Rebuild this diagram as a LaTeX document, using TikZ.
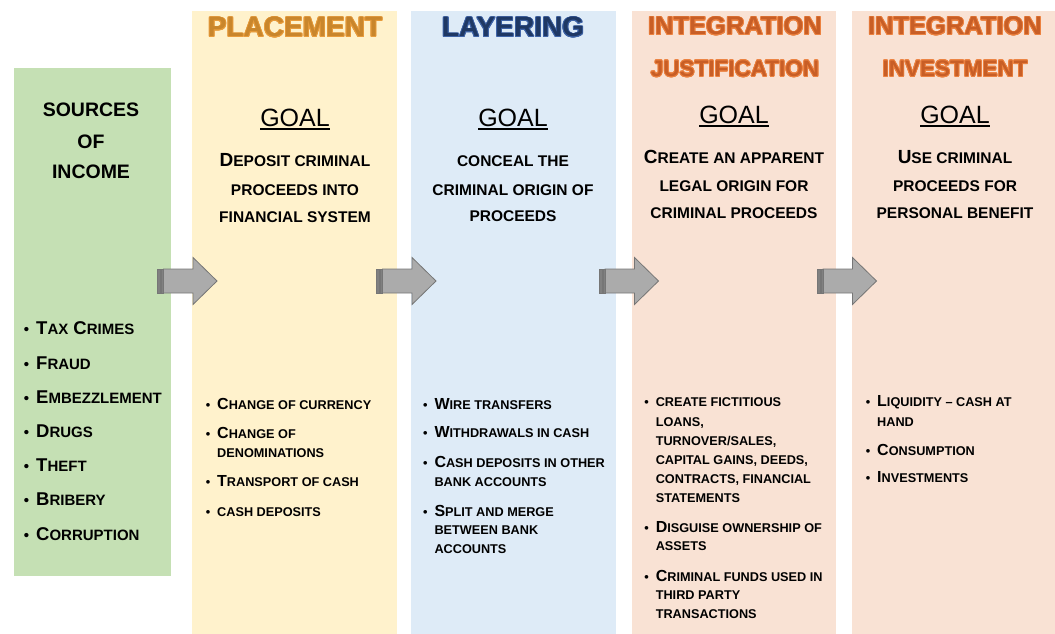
\documentclass[tikz,border=0pt]{standalone}
\usepackage{fontspec}
\usepackage[copies]{contour}
\contournumber{16}
\contourlength{0.8pt}
\setmainfont{Liberation Sans}
\definecolor{cgreen}{HTML}{C5E0B4}
\definecolor{cyellow}{HTML}{FFF2CC}
\definecolor{cblue}{HTML}{DEEBF7}
\definecolor{cpeach}{HTML}{F9E2D4}
\definecolor{hplace}{HTML}{C9862C}
\definecolor{oplace}{HTML}{E89C3C}
\definecolor{hlayer}{HTML}{1F3864}
\definecolor{olayer}{HTML}{3F64A8}
\definecolor{hinteg}{HTML}{C85E26}
\definecolor{ointeg}{HTML}{EC8240}
\definecolor{arrfill}{HTML}{ABABAB}
\definecolor{arrline}{HTML}{767676}
\newcommand\lsm{\fontsize{12.7}{12.7}\selectfont}
\newcommand\gsm{\fontsize{15.5}{15.5}\selectfont}
\newcommand\ssm{\fontsize{15}{15}\selectfont}
\newcommand\bul{\llap{{\lsm\textbullet}\hskip 7pt}}
\newcommand\sbul{\llap{{\ssm\textbullet}\hskip 7pt}}
\begin{document}
\begin{tikzpicture}[x=1pt,y=-1pt,
  hdr/.style={anchor=base, inner sep=0, font=\bfseries\fontsize{28}{28}\selectfont},
  goalhd/.style={anchor=base, inner sep=0, font=\fontsize{25}{25}\selectfont},
  gtxt/.style={anchor=base, inner sep=0, font=\bfseries\fontsize{19}{19}\selectfont},
  ltxt/.style={anchor=base west, inner sep=0, font=\bfseries\fontsize{16}{16}\selectfont},
  stxt/.style={anchor=base west, inner sep=0, font=\bfseries\fontsize{18.5}{18.5}\selectfont},
  srchd/.style={anchor=base, inner sep=0, font=\bfseries\fontsize{19.5}{19.5}\selectfont},
  uline/.style={line width=1.6pt, black},
  striped/.pic={
    \filldraw[fill=arrfill, draw=arrline, line width=0.8pt]
      (6,-12) -- (35.5,-12) -- (35.5,-23.5) -- (59.5,0) -- (35.5,23.5) -- (35.5,12) -- (6,12) -- cycle;
    \filldraw[fill=arrfill!75!black, draw=arrline, line width=0.5pt] (0,-12) rectangle (3,12);
    \filldraw[fill=arrfill!75!black, draw=arrline, line width=0.5pt] (4,-12) rectangle (6,12);
  }]
\useasboundingbox (0,0) rectangle (1055,634);
% columns
\fill[cgreen]  (14,68) rectangle (171,576);
\fill[cyellow] (192,11) rectangle (397,634);
\fill[cblue]   (411,11) rectangle (616,634);
\fill[cpeach]  (632,11) rectangle (836,634);
\fill[cpeach]  (852,11) rectangle (1055,634);
% arrows
\pic at (157.5,281) {striped};
\pic at (376.5,281) {striped};
\pic at (599,281) {striped};
\pic at (817,281) {striped};
% headers
\node[hdr] (hp) at (295,37) {\contour{oplace}{\textcolor{hplace}{PLACEMENT}}};
\node[hdr] (hl) at (513,37) {\contour{olayer}{\textcolor{hlayer}{LAYERING}}};
\node[hdr, font=\bfseries\fontsize{25.5}{25.5}\selectfont] (hi1) at (735,35) {\contour{ointeg}{\textcolor{hinteg}{INTEGRATION}}};
\node[hdr, font=\bfseries\fontsize{22.5}{22.5}\selectfont] (hj) at (735,76.5) {\contour{ointeg}{\textcolor{hinteg}{JUSTIFICATION}}};
\node[hdr, font=\bfseries\fontsize{25.5}{25.5}\selectfont] (hi2) at (955,35) {\contour{ointeg}{\textcolor{hinteg}{INTEGRATION}}};
\node[hdr, font=\bfseries\fontsize{22.5}{22.5}\selectfont] (hv) at (955,76.5) {\contour{ointeg}{\textcolor{hinteg}{INVESTMENT}}};
% sources
\node[srchd] (s1) at (91,117) {SOURCES};
\node[srchd] (s2) at (91,148) {OF};
\node[srchd] (s3) at (91,178) {INCOME};
\node[stxt] (sl1) at (36,334.5) {\sbul T{\ssm AX} C{\ssm RIMES}};
\node[stxt] (sl2) at (36,369) {\sbul F{\ssm RAUD}};
\node[stxt] (sl3) at (36,403) {\sbul E{\ssm MBEZZLEMENT}};
\node[stxt] (sl4) at (36,437) {\sbul D{\ssm RUGS}};
\node[stxt] (sl5) at (36,471) {\sbul T{\ssm HEFT}};
\node[stxt] (sl6) at (36,505.5) {\sbul B{\ssm RIBERY}};
\node[stxt] (sl7) at (36,540) {\sbul C{\ssm ORRUPTION}};
% GOAL headings
\node[goalhd] (gp) at (295,126) {GOAL};
\node[goalhd] (gl) at (513,126) {GOAL};
\node[goalhd] (gi) at (734,123) {GOAL};
\node[goalhd] (gv) at (955,123) {GOAL};
\foreach \g in {gp,gl,gi,gv}
  \draw[uline] ([yshift=-2.8pt]\g.base west) -- ([yshift=-2.8pt]\g.base east);
% goal texts
\node[gtxt] (pg1) at (295,166.5) {D{\gsm EPOSIT CRIMINAL}};
\node[gtxt] (pg2) at (295,195) {{\gsm PROCEEDS INTO}};
\node[gtxt] (pg3) at (295,222) {{\gsm FINANCIAL SYSTEM}};
\node[gtxt] (lg1) at (513,166.5) {{\gsm CONCEAL THE}};
\node[gtxt] (lg2) at (513,195) {{\gsm CRIMINAL ORIGIN OF}};
\node[gtxt] (lg3) at (513,221.5) {{\gsm PROCEEDS}};
\node[gtxt] (ig1) at (734,163) {C{\gsm REATE AN APPARENT}};
\node[gtxt] (ig2) at (734,191.5) {{\gsm LEGAL ORIGIN FOR}};
\node[gtxt] (ig3) at (734,218) {{\gsm CRIMINAL PROCEEDS}};
\node[gtxt] (vg1) at (955,163) {U{\gsm SE CRIMINAL}};
\node[gtxt] (vg2) at (955,191.5) {{\gsm PROCEEDS FOR}};
\node[gtxt] (vg3) at (955,218) {{\gsm PERSONAL BENEFIT}};
% placement list
\node[ltxt] (pl1) at (217,409.3) {\bul C{\lsm HANGE OF CURRENCY}};
\node[ltxt] (pl2) at (217,438.3) {\bul C{\lsm HANGE OF}};
\node[ltxt] (pl2b) at (217,457.3) {{\lsm DENOMINATIONS}};
\node[ltxt] (pl3) at (217,486.7) {\bul T{\lsm RANSPORT OF CASH}};
\node[ltxt] (pl4) at (217,516) {\bul{\lsm CASH DEPOSITS}};
% layering list
\node[ltxt] (ll1) at (434.3,409.3) {\bul W{\lsm IRE TRANSFERS}};
\node[ltxt] (ll2) at (434.3,437.7) {\bul W{\lsm ITHDRAWALS IN CASH}};
\node[ltxt] (ll3) at (434.3,467.3) {\bul C{\lsm ASH DEPOSITS IN OTHER}};
\node[ltxt] (ll3b) at (434.3,486) {{\lsm BANK ACCOUNTS}};
\node[ltxt] (ll4) at (434.3,516) {\bul S{\lsm PLIT AND MERGE}};
\node[ltxt] (ll4b) at (434.3,534.3) {{\lsm BETWEEN BANK}};
\node[ltxt] (ll4c) at (434.3,553.3) {{\lsm ACCOUNTS}};
% integration justification list
\node[ltxt] (il1) at (655.6,406.7) {\bul{\lsm CREATE FICTITIOUS}};
\node[ltxt] (il1b) at (655.6,426.7) {{\lsm LOANS,}};
\node[ltxt] (il1c) at (655.6,445) {{\lsm TURNOVER/SALES,}};
\node[ltxt] (il1d) at (655.6,464.3) {{\lsm CAPITAL GAINS, DEEDS,}};
\node[ltxt] (il1e) at (655.6,483.3) {{\lsm CONTRACTS, FINANCIAL}};
\node[ltxt] (il1f) at (655.6,502.3) {{\lsm STATEMENTS}};
\node[ltxt] (il2) at (655.6,532.3) {\bul D{\lsm ISGUISE OWNERSHIP OF}};
\node[ltxt] (il2b) at (655.6,550) {{\lsm ASSETS}};
\node[ltxt] (il3) at (655.6,581) {\bul C{\lsm RIMINAL FUNDS USED IN}};
\node[ltxt] (il3b) at (655.6,599.3) {{\lsm THIRD PARTY}};
\node[ltxt] (il3c) at (655.6,618.3) {{\lsm TRANSACTIONS}};
% integration investment list
\node[ltxt] (vl1) at (877,406.7) {\bul L{\lsm IQUIDITY – CASH AT}};
\node[ltxt] (vl1b) at (877,426) {{\lsm HAND}};
\node[ltxt] (vl2) at (877,455) {\bul C{\lsm ONSUMPTION}};
\node[ltxt] (vl3) at (877,482.7) {\bul I{\lsm NVESTMENTS}};
\end{tikzpicture}
\end{document}
